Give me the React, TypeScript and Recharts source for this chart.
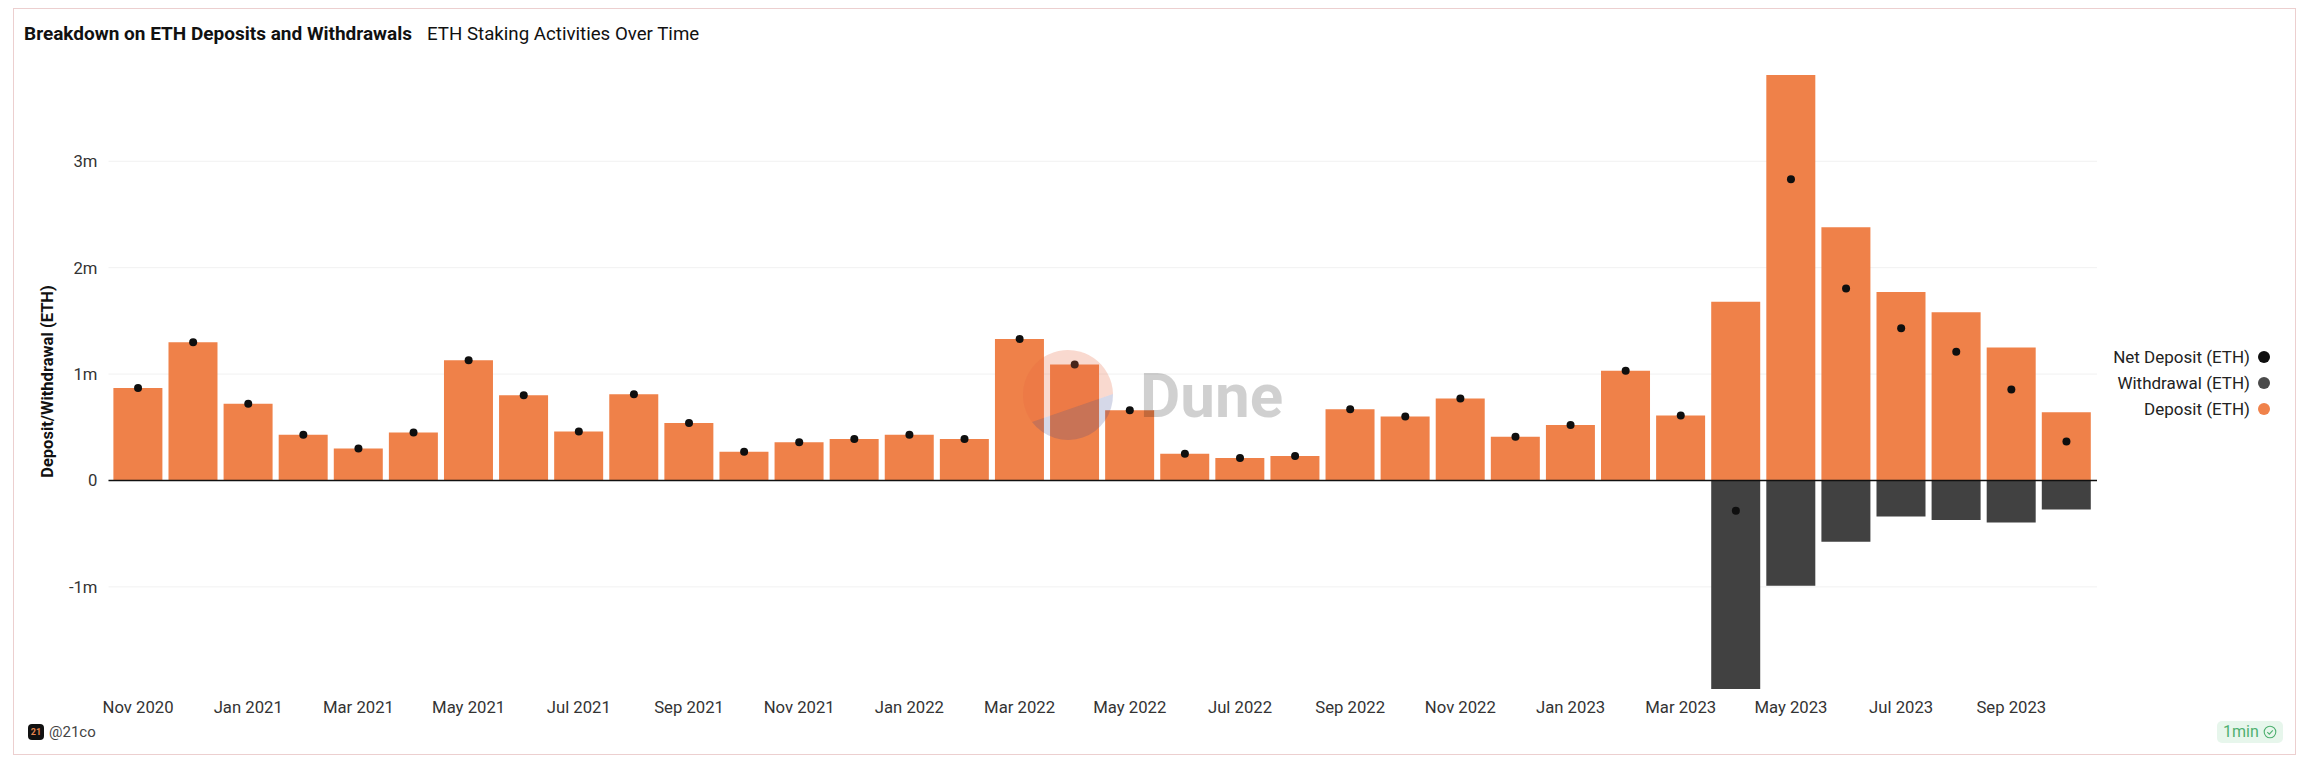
import { ComposedChart, Bar, Line, XAxis, YAxis, CartesianGrid, ReferenceLine } from 'recharts';

const months = [
  'Nov 2020', 'Dec 2020', 'Jan 2021', 'Feb 2021', 'Mar 2021', 'Apr 2021', 'May 2021', 'Jun 2021', 'Jul 2021',
  'Aug 2021', 'Sep 2021', 'Oct 2021', 'Nov 2021', 'Dec 2021', 'Jan 2022', 'Feb 2022', 'Mar 2022', 'Apr 2022',
  'May 2022', 'Jun 2022', 'Jul 2022', 'Aug 2022', 'Sep 2022', 'Oct 2022', 'Nov 2022', 'Dec 2022', 'Jan 2023',
  'Feb 2023', 'Mar 2023', 'Apr 2023', 'May 2023', 'Jun 2023', 'Jul 2023', 'Aug 2023', 'Sep 2023', 'Oct 2023',
];

const deposits = [
  870000, 1300000, 720000, 430000, 300000, 450000, 1130000, 800000, 460000,
  810000, 540000, 270000, 360000, 390000, 430000, 390000, 1330000, 1090000,
  660000, 250000, 210000, 230000, 670000, 600000, 770000, 410000, 520000,
  1030000, 610000, 1680000, 3810000, 2380000, 1770000, 1580000, 1250000, 640000,
];

const withdrawals = [
  0, 0, 0, 0, 0, 0, 0, 0, 0,
  0, 0, 0, 0, 0, 0, 0, 0, 0,
  0, 0, 0, 0, 0, 0, 0, 0, 0,
  0, 0, -1960000, -990000, -576000, -338000, -372000, -394000, -272000,
];

const netDeposits = [
  870000, 1300000, 720000, 430000, 300000, 450000, 1130000, 800000, 460000,
  810000, 540000, 270000, 360000, 390000, 430000, 390000, 1330000, 1090000,
  660000, 250000, 210000, 230000, 670000, 600000, 770000, 410000, 520000,
  1030000, 610000, -285000, 2830000, 1805000, 1430000, 1210000, 855000, 365000,
];

const yTicks = [-1000000, 0, 1000000, 2000000, 3000000];

const legendItems = [
  { name: 'Net Deposit (ETH)', color: '#0f0f0f' },
  { name: 'Withdrawal (ETH)', color: '#4a4a4a' },
  { name: 'Deposit (ETH)', color: '#f0824a' },
];

const chartData = months.map((month, i) => ({
  month,
  deposit: deposits[i],
  withdrawal: withdrawals[i],
  net: netDeposits[i],
}));

const FONT = 'Roboto, sans-serif';

function formatTick(v: number) {
  return v === 0 ? '0' : `${v / 1000000}m`;
}

function ChartLegend() {
  return (
    <div style={{ position: 'absolute', right: 54, top: 344, display: 'flex', flexDirection: 'column', alignItems: 'flex-end', fontFamily: FONT, fontSize: 17, color: '#222' }}>
      {legendItems.map((item) => (
        <div key={item.name} style={{ display: 'flex', alignItems: 'center', height: 26 }}>
          <span>{item.name}</span>
          <span style={{ width: 12, height: 12, borderRadius: 6, background: item.color, marginLeft: 8 }} />
        </div>
      ))}
    </div>
  );
}

export default function App() {
  return (
    <div style={{ position: 'absolute', left: 0, top: 0, width: 2324, height: 770, background: '#fff', overflow: 'hidden' }}>
      {/* card border */}
      <div style={{ position: 'absolute', left: 13, top: 8, width: 2283, height: 747, border: '1px solid #eccfcf', boxSizing: 'border-box' }} />

      <div style={{ position: 'absolute', left: 24, top: 23, fontFamily: FONT, fontSize: 19, lineHeight: '22px', color: '#111', whiteSpace: 'nowrap' }}>
        <span style={{ fontWeight: 700 }}>Breakdown on ETH Deposits and Withdrawals</span>
        <span style={{ marginLeft: 15, fontSize: 18.7 }}>ETH Staking Activities Over Time</span>
      </div>

      <ComposedChart
        width={2324}
        height={770}
        data={chartData}
        stackOffset="sign"
        barCategoryGap="5.25%"
        margin={{ top: 74, right: 227, bottom: 51, left: 0 }}
        style={{ position: 'absolute', left: 0, top: 0 }}
      >
        <CartesianGrid vertical={false} horizontalValues={yTicks} stroke="#f1f1f1" />
        <XAxis
          dataKey="month"
          interval={1}
          height={30}
          padding={{ left: 2, right: 3 }}
          axisLine={false}
          tickLine={false}
          tick={{ fontFamily: FONT, fontSize: 16.7, fill: '#333' }}
          tickMargin={6}
        />
        <YAxis
          width={108.5}
          domain={[-1960000, 3820000]}
          ticks={yTicks}
          tickFormatter={formatTick}
          axisLine={false}
          tickLine={false}
          tick={{ fontFamily: FONT, fontSize: 16.7, fill: '#333' }}
          tickMargin={5}
          label={{
            value: 'Deposit/Withdrawal (ETH)',
            angle: -90,
            position: 'insideLeft',
            offset: 47,
            style: { fontFamily: FONT, fontSize: 16.5, fontWeight: 700, fill: '#111', textAnchor: 'middle' },
          }}
        />
        <Bar dataKey="deposit" stackId="flow" fill="#ef8149" isAnimationActive={false} />
        <Bar dataKey="withdrawal" stackId="flow" fill="#414141" isAnimationActive={false} />
        <ReferenceLine y={0} stroke="#111" strokeWidth={1.5} />
        <Line
          dataKey="net"
          stroke="none"
          dot={{ r: 4, fill: '#0f0f0f', stroke: 'none' }}
          activeDot={false}
          isAnimationActive={false}
        />
      </ComposedChart>

      <ChartLegend />

      {/* Dune watermark */}
      <svg width={2324} height={770} style={{ position: 'absolute', left: 0, top: 0, pointerEvents: 'none' }}>
        <path d="M1032,422 A45,45 0 1 1 1113,394 Z" fill="#e8683f" opacity={0.25} />
        <path d="M1032,422 A45,45 0 0 0 1113,394 Z" fill="#2c3e8a" opacity={0.2} />
        <text x={1140} y={417} fontFamily="Roboto, sans-serif" fontWeight={700} fontSize={62} fill="#000" opacity={0.18}>
          Dune
        </text>
      </svg>

      {/* footer */}
      <div style={{ position: 'absolute', left: 28, top: 724, width: 16, height: 16, borderRadius: 4, background: '#111', color: '#e8854e', fontFamily: FONT, fontSize: 9, lineHeight: '16px', textAlign: 'center', fontWeight: 700 }}>
        21
      </div>
      <div style={{ position: 'absolute', left: 49, top: 723, fontFamily: FONT, fontSize: 15, lineHeight: '18px', color: '#444' }}>@21co</div>
      <div style={{ position: 'absolute', left: 2217, top: 721, width: 66, height: 22, borderRadius: 5, background: '#e7f6ec', color: '#4fb070', fontFamily: FONT, fontSize: 16, lineHeight: '22px', paddingLeft: 6, boxSizing: 'border-box' }}>
        1min
        <svg width={14} height={14} viewBox="0 0 14 14" style={{ position: 'absolute', right: 6, top: 4 }}>
          <circle cx={7} cy={7} r={5.8} fill="none" stroke="#4fb070" strokeWidth={1.1} />
          <path d="M4.3,7.2 L6.3,9.2 L9.8,5.3" fill="none" stroke="#4fb070" strokeWidth={1.1} />
        </svg>
      </div>
    </div>
  );
}
